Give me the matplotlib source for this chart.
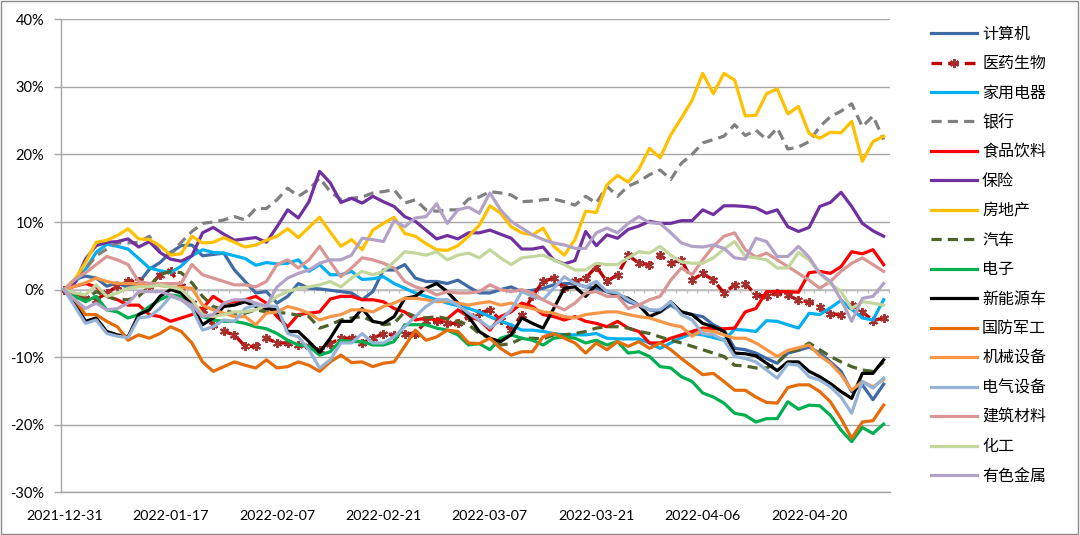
import numpy as np
import matplotlib
matplotlib.use('Agg')
import matplotlib.pyplot as plt
from matplotlib.patches import Rectangle

plt.rcParams['font.family'] = ['Lato', 'Noto Sans CJK SC', 'DejaVu Sans']

# cumulative return (%) of each sector since 2021-12-31, one value per trading day
tick_labels = ['2021-12-31', '2022-01-17', '2022-02-07', '2022-02-21',
               '2022-03-07', '2022-03-21', '2022-04-06', '2022-04-20']

jisuanji = [0, 1.5, 2.0, 1.7, 0.5, 1.0, 0.3, 1.0, 3.0, 4.0,
            5.5, 6.5, 6.6, 5.0, 5.2, 5.4, 2.9, 1.2, -0.5, -0.3,
            -2.0, -1.0, 0.9, 0.2, 0.1, -0.1, -0.3, -0.5, -1.5, -0.3,
            2.9, 2.9, 3.7, 1.7, 1.2, 1.2, 0.9, 1.4, 0.4, -0.5,
            -0.5, 0.0, 0.4, -0.3, -0.1, 0.2, 0.7, 0.9, 0.9, 0.4,
            0.2, -0.3, -0.8, -1.8, -2.3, -3.0, -3.3, -2.3, -3.3, -3.7,
            -4.0, -5.2, -6.0, -8.7, -8.9, -9.4, -10.2, -10.9, -9.4, -9.0,
            -8.5, -9.4, -10.7, -12.1, -15.1, -14.1, -16.3, -14.0]
yiyao = [0, -1.0, -1.2, -1.5, -0.5, 0.5, 1.2, 1.2, 0.5, 2.2,
         2.7, 0.5, -2.0, -3.0, -5.2, -6.2, -6.7, -8.4, -8.4, -7.2,
         -7.9, -7.9, -8.2, -8.4, -9.0, -8.0, -7.2, -7.2, -7.9, -7.2,
         -6.5, -6.7, -6.5, -6.5, -4.7, -4.7, -5.0, -5.0, -4.0, -3.5,
         -3.0, -4.5, -6.0, -3.7, -1.0, 1.2, 1.7, 0.2, 1.2, 1.7,
         3.4, 1.2, 2.2, 5.1, 3.9, 3.7, 5.1, 3.9, 4.4, 1.4,
         2.4, 1.4, -0.5, 0.7, 0.9, -0.8, -1.0, -0.5, -0.8, -1.6,
         -1.8, -2.6, -3.6, -3.7, -2.3, -3.3, -4.6, -4.2]
jiadian = [0, 1.0, 3.0, 5.5, 6.7, 6.4, 6.0, 4.6, 3.2, 2.8,
           2.5, 3.5, 5.0, 5.9, 5.5, 5.4, 5.0, 4.6, 3.6, 4.0,
           3.8, 3.9, 4.4, 2.7, 3.7, 2.2, 2.2, 2.7, 1.5, 1.6,
           1.9, 0.9, 0.2, -0.5, -1.0, -1.5, -2.0, -2.4, -2.8, -3.3,
           -4.0, -4.7, -5.2, -6.0, -6.0, -6.2, -6.5, -6.7, -6.7, -6.7,
           -6.5, -7.2, -7.3, -7.3, -7.3, -7.9, -8.7, -7.9, -7.1, -6.5,
           -6.7, -7.1, -7.5, -5.9, -6.0, -6.2, -4.6, -4.7, -5.2, -5.7,
           -3.5, -3.7, -2.7, -1.6, -2.9, -4.2, -4.5, -1.5]
yinhang = [0, 1.5, 3.0, 5.0, 6.0, 6.9, 6.9, 7.0, 7.9, 5.6,
           5.2, 7.0, 8.6, 9.8, 10.0, 10.3, 10.8, 10.3, 12.0, 12.0,
           13.3, 15.0, 13.8, 14.8, 16.5, 14.5, 13.3, 13.5, 13.7, 14.3,
           14.5, 14.8, 12.8, 13.3, 11.8, 11.6, 11.8, 11.8, 13.4, 13.7,
           14.5, 14.3, 14.0, 13.0, 13.1, 13.3, 13.4, 13.0, 12.5, 13.8,
           12.8, 15.3, 13.8, 15.3, 16.0, 17.0, 17.7, 16.3, 18.7, 20.0,
           21.7, 22.2, 22.7, 24.4, 22.8, 23.6, 22.2, 23.9, 20.8, 21.1,
           21.9, 24.1, 25.6, 26.4, 27.5, 24.1, 25.7, 22.2]
shipin = [0, 0.5, 0.9, 0.4, -1.0, -1.5, -2.3, -2.3, -3.7, -4.0,
          -4.7, -4.2, -3.7, -2.8, -1.0, -2.0, -1.8, -1.5, -1.0, -2.0,
          -4.0, -5.5, -3.7, -3.5, -3.3, -1.4, -1.0, -1.0, -1.5, -1.5,
          -1.8, -2.8, -3.3, -4.5, -4.2, -4.5, -4.3, -3.0, -4.0, -4.5,
          -6.0, -4.0, -3.3, -2.0, -2.5, -3.7, -4.0, -4.5, -4.0, -4.7,
          -5.0, -5.5, -4.7, -5.7, -6.2, -7.9, -7.9, -7.2, -6.7, -6.2,
          -5.7, -5.8, -5.8, -5.7, -3.3, -2.8, -0.3, -0.3, -0.3, -0.4,
          2.5, 2.7, 2.4, 3.4, 5.6, 5.3, 5.9, 3.7]
baoxian = [0, 1.0, 4.5, 6.5, 7.0, 7.1, 7.5, 6.3, 7.1, 5.5,
           4.5, 4.2, 5.0, 8.4, 9.2, 8.2, 7.3, 7.5, 7.7, 7.0,
           9.3, 11.8, 10.6, 13.0, 17.5, 15.8, 12.9, 13.5, 12.8, 13.8,
           13.0, 12.3, 10.8, 10.1, 8.8, 7.5, 8.0, 7.5, 8.4, 8.4,
           8.8, 8.2, 7.6, 6.0, 6.0, 6.3, 4.4, 3.8, 4.3, 8.6,
           6.5, 8.1, 7.6, 8.9, 9.4, 10.1, 9.8, 9.8, 10.2, 10.2,
           11.8, 11.1, 12.4, 12.4, 12.3, 12.1, 11.3, 11.8, 9.3, 8.6,
           9.2, 12.3, 12.9, 14.4, 12.3, 9.8, 8.7, 7.9]
fangdichan = [0, 1.5, 4.0, 7.0, 7.3, 8.0, 9.0, 7.5, 7.4, 6.5,
              5.1, 5.3, 7.9, 6.9, 7.0, 7.7, 7.0, 6.3, 6.6, 7.3,
              7.9, 9.0, 7.7, 9.2, 10.7, 8.5, 6.4, 7.4, 5.9, 8.8,
              9.8, 10.7, 8.3, 7.9, 6.8, 5.9, 5.8, 6.5, 7.9, 9.5,
              12.4, 11.3, 9.3, 8.4, 8.1, 9.1, 6.4, 5.1, 7.4, 11.6,
              11.4, 15.5, 16.9, 15.9, 17.8, 20.9, 19.5, 22.9, 25.4, 28.0,
              32.0, 29.0, 32.0, 31.0, 25.7, 25.8, 29.0, 29.7, 26.0, 27.1,
              23.1, 22.4, 23.3, 23.2, 24.9, 19.0, 21.9, 22.7]
qiche = [0, -1.0, -1.5, -0.3, -1.0, -1.5, -1.5, -1.0, 0.5, 2.2,
         2.7, 2.5, 1.0, -1.0, -2.5, -3.0, -3.5, -3.5, -3.0, -3.3,
         -3.4, -3.5, -3.8, -4.0, -5.7, -5.2, -4.5, -4.2, -4.0, -4.7,
         -5.2, -5.0, -3.3, -4.0, -4.2, -4.0, -4.3, -4.7, -5.2, -6.5,
         -7.2, -8.2, -8.0, -7.2, -7.2, -7.3, -6.7, -6.7, -6.5, -6.2,
         -5.7, -5.5, -5.5, -5.7, -6.2, -6.5, -7.0, -7.5, -7.9, -8.4,
         -8.9, -9.4, -9.9, -11.2, -11.3, -11.6, -11.6, -10.9, -9.2, -8.9,
         -7.9, -8.9, -9.9, -10.7, -11.4, -11.9, -12.1, -10.7]
dianzi = [0, -1.0, -1.8, -1.0, -3.0, -3.3, -4.2, -3.7, -2.5, -1.5,
          -0.8, -1.0, -2.3, -4.0, -4.5, -4.7, -4.7, -5.0, -5.5, -5.8,
          -6.5, -7.5, -8.2, -8.4, -9.7, -9.2, -7.5, -7.7, -7.7, -8.2,
          -8.2, -7.7, -5.2, -5.2, -5.2, -5.7, -6.0, -6.7, -8.2, -8.0,
          -8.9, -7.2, -6.7, -7.2, -7.5, -8.2, -7.2, -7.0, -7.2, -7.9,
          -7.5, -8.2, -7.7, -9.4, -9.2, -9.9, -11.4, -11.6, -12.9, -13.6,
          -15.3, -15.9, -16.8, -18.3, -18.6, -19.6, -19.1, -19.1, -16.6, -17.7,
          -17.1, -17.2, -18.6, -20.8, -22.5, -20.4, -21.3, -19.9]
xinnengyuan = [0, -2.0, -4.7, -4.2, -6.2, -6.7, -7.0, -3.7, -3.0, -1.0,
               0.0, -0.5, -2.3, -5.2, -4.2, -2.5, -2.3, -1.8, -2.5, -2.8,
               -3.0, -6.2, -6.2, -7.7, -9.3, -7.2, -4.7, -4.7, -2.8, -4.7,
               -5.0, -4.0, -1.3, -1.0, 0.2, 0.9, -0.3, -2.0, -4.0, -6.2,
               -7.2, -7.7, -6.7, -4.2, -5.0, -5.7, -2.8, 0.2, 0.4, -1.0,
               0.7, -0.3, -0.8, -1.3, -2.3, -4.0, -3.3, -1.8, -3.3, -3.7,
               -5.0, -5.5, -6.2, -9.4, -9.5, -9.8, -10.9, -12.0, -10.7, -10.7,
               -12.1, -12.9, -13.9, -15.1, -16.1, -12.4, -12.4, -10.4]
guofang = [0, -1.5, -3.7, -3.7, -4.7, -5.5, -7.5, -6.7, -7.2, -6.5,
           -5.5, -6.2, -7.9, -10.7, -12.1, -11.4, -10.7, -11.2, -11.6, -10.4,
           -11.6, -11.4, -10.7, -11.2, -12.1, -10.7, -9.7, -10.8, -10.7, -11.4,
           -10.9, -10.7, -8.4, -6.0, -7.5, -7.0, -6.0, -6.2, -7.9, -8.0,
           -7.2, -8.7, -9.7, -9.2, -9.2, -7.0, -6.5, -7.2, -7.9, -9.4,
           -7.9, -8.9, -7.7, -8.4, -7.7, -8.7, -7.9, -8.9, -10.2, -11.4,
           -12.6, -12.4, -13.6, -14.9, -14.9, -15.9, -16.7, -16.8, -14.5, -14.1,
           -14.1, -15.1, -16.6, -19.1, -22.0, -19.6, -19.4, -17.1]
jixie = [0, 0.5, 1.0, 1.7, 1.2, 0.9, 0.9, 0.8, 0.7, 0.6,
         0.4, 0.3, 0.2, -2.3, -3.0, -3.5, -4.0, -4.0, -5.2, -3.5,
         -3.3, -2.5, -2.9, -3.5, -4.5, -4.0, -3.7, -3.0, -3.0, -3.3,
         -2.5, -2.0, -1.3, -1.3, -1.5, -1.8, -1.7, -2.0, -2.3, -2.0,
         -1.8, -2.3, -2.0, -2.5, -2.8, -3.3, -3.5, -4.0, -4.2, -3.7,
         -3.5, -3.3, -3.3, -3.7, -4.0, -4.2, -4.7, -5.2, -5.5, -6.9,
         -6.0, -6.2, -6.7, -7.2, -7.2, -7.9, -8.9, -9.9, -9.0, -8.6,
         -8.2, -9.8, -10.9, -12.6, -14.9, -13.6, -14.4, -13.3]
dianqi = [0, -2.5, -5.0, -4.5, -6.5, -6.9, -7.1, -4.2, -4.0, -2.8,
          -1.0, -1.5, -2.8, -6.0, -5.5, -4.5, -4.7, -2.8, -2.3, -2.4,
          -2.5, -6.5, -7.0, -8.9, -11.6, -10.4, -7.9, -7.9, -6.5, -7.9,
          -7.9, -7.0, -5.5, -4.0, -2.5, -1.5, -1.5, -2.3, -3.5, -4.5,
          -5.7, -4.5, -3.0, -0.3, -1.0, -1.5, 0.2, 1.9, 0.9, 0.4,
          1.2, -0.3, -0.5, -1.5, -2.3, -3.0, -3.0, -1.8, -3.7, -4.5,
          -6.5, -6.7, -7.5, -9.9, -10.2, -10.7, -11.9, -13.1, -11.0, -11.2,
          -12.9, -13.4, -14.4, -15.9, -18.3, -13.6, -14.6, -13.1]
jiancai = [0, 1.5, 2.5, 3.7, 4.9, 4.4, 3.7, 1.2, 0.9, 0.9,
           0.9, 0.9, 3.7, 2.2, 1.7, 1.2, 0.7, 0.7, 0.4, 1.2,
           3.7, 4.4, 3.2, 4.4, 6.4, 4.1, 1.9, 3.2, 4.7, 4.4,
           3.9, 3.2, 1.2, 0.4, 0.0, -0.8, -0.3, -0.5, -0.5, -0.3,
           0.7, 0.0, -0.3, 0.0, -0.5, -1.5, -2.3, -3.0, -2.0, -0.5,
           -0.3, -1.0, -1.0, -2.8, -2.3, -1.5, -1.0, 1.4, 3.2, 2.2,
           4.4, 6.4, 7.9, 8.4, 5.9, 4.8, 5.4, 4.4, 3.4, 2.4,
           1.4, 0.2, 1.2, 2.7, 3.9, 4.7, 3.7, 2.7]
huagong = [0, -0.5, -0.8, 0.7, -1.0, -0.5, 0.2, 0.4, 0.4, 0.7,
           0.4, 0.0, -1.5, -3.7, -4.0, -3.7, -3.3, -3.3, -3.0, -2.3,
           -1.0, -0.3, 0.2, 0.4, 0.7, 1.2, 0.4, 1.7, 2.7, 2.2,
           2.7, 4.1, 5.6, 5.4, 5.1, 5.6, 4.4, 5.1, 5.4, 4.7,
           5.9, 4.7, 3.7, 4.7, 4.9, 5.1, 4.4, 3.7, 2.9, 2.9,
           3.9, 3.7, 3.7, 4.7, 5.6, 5.4, 6.4, 5.1, 4.1, 3.9,
           3.9, 4.7, 6.0, 7.1, 4.9, 4.7, 4.4, 3.2, 3.2, 5.5,
           4.4, 2.4, 0.9, -0.3, -2.8, -1.8, -2.0, -2.3]
youse = [0, -1.5, -2.8, -2.0, -3.0, -2.8, -2.0, -0.3, -0.3, -0.3,
         -0.8, -1.5, -2.3, -4.0, -3.7, -2.0, -1.5, -1.5, -2.0, -2.5,
         0.4, 1.7, 2.4, 2.9, 3.9, 4.4, 4.4, 5.1, 7.6, 7.4,
         7.1, 10.2, 9.3, 10.6, 10.8, 12.7, 9.8, 11.8, 12.2, 11.3,
         14.3, 11.8, 10.1, 9.1, 8.1, 7.4, 6.9, 6.6, 6.1, 6.1,
         8.4, 9.1, 8.4, 9.8, 10.8, 9.9, 9.8, 8.4, 6.9, 6.4,
         6.3, 6.6, 6.1, 4.7, 4.5, 7.6, 7.1, 4.9, 4.9, 6.4,
         4.8, 2.4, 1.2, -1.5, -4.7, -1.3, -1.0, 0.9]

# name, values, color, linestyle
series = [
    ('计算机', jisuanji, '#3E6BA5', '-'),
    ('医药生物', yiyao, '#C00000', (0, (3.2, 1.8))),
    ('家用电器', jiadian, '#00B0F0', '-'),
    ('银行', yinhang, '#808080', (0, (3.2, 1.9))),
    ('食品饮料', shipin, '#FF0000', '-'),
    ('保险', baoxian, '#7030A0', '-'),
    ('房地产', fangdichan, '#FFC000', '-'),
    ('汽车', qiche, '#4F6228', (0, (3.2, 1.9))),
    ('电子', dianzi, '#00B050', '-'),
    ('新能源车', xinnengyuan, '#000000', '-'),
    ('国防军工', guofang, '#E46C0A', '-'),
    ('机械设备', jixie, '#F79646', '-'),
    ('电气设备', dianqi, '#95B3D7', '-'),
    ('建筑材料', jiancai, '#D99694', '-'),
    ('化工', huagong, '#C3D69B', '-'),
    ('有色金属', youse, '#B3A2C7', '-'),
]

fig = plt.figure(figsize=(10.8, 5.35), dpi=100)
ax = fig.add_axes([61 / 1080, 1 - 492.3 / 535, 829 / 1080, 473 / 535])

x = np.arange(len(jisuanji))
handles = []
for name, vals, color, ls in series:
    if name == '医药生物':
        h, = ax.plot(x, vals, color=color, lw=2.4, ls=ls, marker=(6, 2, 0),
                     markersize=6.5, markeredgewidth=1.4, markeredgecolor='#A5302E',
                     label=name)
    else:
        h, = ax.plot(x, vals, color=color, lw=2.3, ls=ls, label=name,
                     solid_joinstyle='round')
    handles.append(h)

ax.set_xlim(-0.3, len(x) - 0.4)
ax.set_ylim(-30, 40)

# horizontal gridlines every 10%
ax.set_yticks(np.arange(-30, 41, 10))
ax.set_yticklabels(['%d%%' % v for v in range(-30, 41, 10)])
ax.yaxis.grid(True, color='#A6A6A6', lw=1.0)
ax.set_axisbelow(True)

# zero axis with small tick marks
ax.axhline(0, color='#BFBFBF', lw=1.2, zorder=1)
ax.vlines(x + 0.5, -0.5, 0, color='#BFBFBF', lw=0.9, zorder=1)

ax.set_xticks(x[::10])
ax.set_xticklabels(tick_labels)
ax.tick_params(axis='x', length=0, pad=13, labelsize=10.3, colors='#000000')
ax.tick_params(axis='y', length=5, width=1.0, color='#A6A6A6', pad=7, labelsize=10.5)

for s in ['top', 'right']:
    ax.spines[s].set_visible(False)
for s in ['left', 'bottom']:
    ax.spines[s].set_color('#A6A6A6')
    ax.spines[s].set_linewidth(1.0)

fig.legend(handles=handles, loc='upper left', bbox_to_anchor=(0.862, 0.952),
           frameon=False, borderpad=0, borderaxespad=0, handlelength=2.9,
           handletextpad=0.3, labelspacing=0.78, numpoints=1,
           prop={'family': ['Noto Sans CJK SC', 'DejaVu Sans'], 'size': 11.5})

fig.patches.append(Rectangle((0.0005, 0.001), 0.998, 0.997, transform=fig.transFigure,
                             fill=False, edgecolor='#8C8C8C', lw=1.0))

fig.savefig('out.png', dpi=100)
